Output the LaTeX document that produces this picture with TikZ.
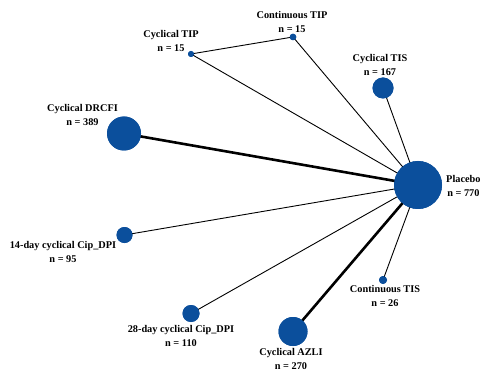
\documentclass[tikz,border=0pt]{standalone}
\usepackage{fontspec}
\setmainfont{Liberation Serif}
\begin{document}
\begin{tikzpicture}[x=1pt,y=-1pt,
  trt/.style={circle,fill=nodeblue,inner sep=0pt,minimum size=#1},
  lab/.style={font=\bfseries\fontsize{10.3}{14}\selectfont,align=center,inner sep=0pt},
  thin edge/.style={line width=0.9pt,black},
  thick edge/.style={line width=2.6pt,black}]
\definecolor{nodeblue}{HTML}{0B4F9C}
\useasboundingbox (0,0) rectangle (481,371);
% nodes
\node[trt=48pt] (pla) at (418,185) {};
\node[trt=34pt] (drc) at (124,133.5) {};
\node[trt=21pt] (tis) at (383,88) {};
\node[trt=6pt] (ctip) at (191,54) {};
\node[trt=6.5pt] (cotip) at (293,37) {};
\node[trt=16pt] (d14) at (124.5,235) {};
\node[trt=17pt] (d28) at (191,313.5) {};
\node[trt=29pt] (azl) at (293,331.5) {};
\node[trt=8pt] (cotis) at (383,280) {};
% edges
\draw[thin edge] (ctip.center) -- (cotip.center);
\draw[thin edge] (ctip.center) -- (pla.center);
\draw[thin edge] (cotip.center) -- (pla.center);
\draw[thin edge] (tis.center) -- (pla.center);
\draw[thick edge] (drc.center) -- (pla.center);
\draw[thin edge] (d14.center) -- (pla.center);
\draw[thin edge] (d28.center) -- (pla.center);
\draw[thick edge] (azl.center) -- (pla.center);
\draw[thin edge] (cotis.center) -- (pla.center);
% redraw nodes on top
\node[trt=48pt] at (pla) {};
\node[trt=34pt] at (drc) {};
\node[trt=21pt] at (tis) {};
\node[trt=6pt] at (ctip) {};
\node[trt=6.5pt] at (cotip) {};
\node[trt=16pt] at (d14) {};
\node[trt=17pt] at (d28) {};
\node[trt=29pt] at (azl) {};
\node[trt=8pt] at (cotis) {};
% labels
\node[lab] (lcotip) at (292,21.5) {Continuous TIP\\n = 15};
\node[lab] (lctip) at (171,41) {Cyclical TIP\\n = 15};
\node[lab] (ltis) at (380,65) {Cyclical TIS\\n = 167};
\node[lab] (ldrc) at (82.5,115) {Cyclical DRCFI\\n = 389};
\node[lab,anchor=west,align=center] (lpla) at (446,186) {Placebo\\n = 770};
\node[lab] (ld14) at (63,252) {14-day cyclical Cip\_DPI\\n = 95};
\node[lab] (ld28) at (181,336) {28-day cyclical Cip\_DPI\\n = 110};
\node[lab] (lcotis) at (385,296) {Continuous TIS\\n = 26};
\node[lab] (lazl) at (291,358.5) {Cyclical AZLI\\n = 270};
\end{tikzpicture}
\end{document}
